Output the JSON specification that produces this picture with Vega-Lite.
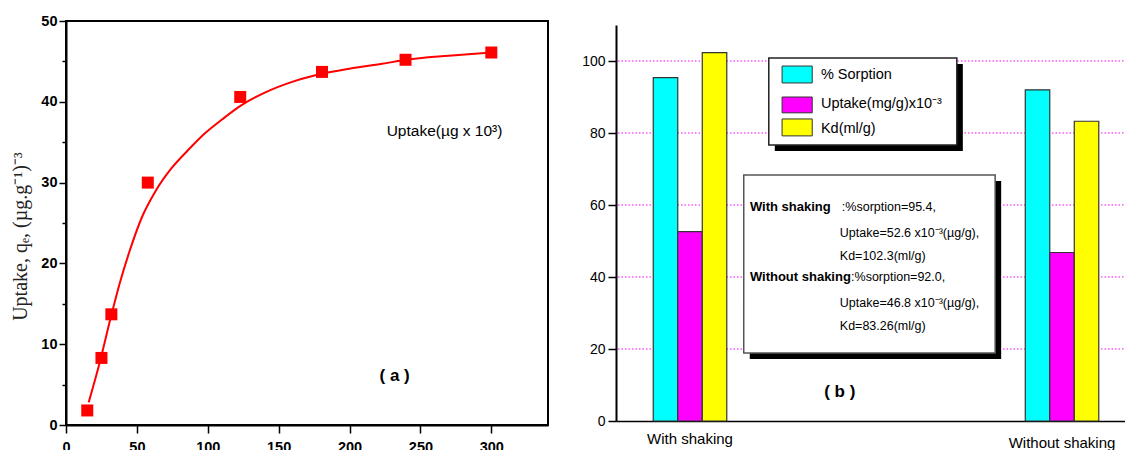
{
  "$schema": "https://vega.github.io/schema/vega-lite/v6.json",
  "background": "white",
  "padding": {"left": 9, "top": 12, "right": 0, "bottom": 0},
  "bounds": "flush",
  "spacing": 68,
  "center": true,
  "config": {
    "font": "Liberation Sans",
    "view": {"stroke": null},
    "axis": {"domainColor": "black", "tickColor": "black", "labelColor": "black", "grid": false, "labelFlush": false, "labelBound": false, "labelOverlap": false}
  },
  "datasets": {
    "fit": [
      {"time": 16, "uptake": 2.8}, {"time": 23, "uptake": 7.2}, {"time": 32, "uptake": 13.6},
      {"time": 38, "uptake": 17.6}, {"time": 45, "uptake": 21.6}, {"time": 54, "uptake": 25.9},
      {"time": 63, "uptake": 28.9}, {"time": 75, "uptake": 31.9}, {"time": 86, "uptake": 34.0},
      {"time": 98, "uptake": 36.1}, {"time": 110, "uptake": 37.8}, {"time": 123, "uptake": 39.5},
      {"time": 141, "uptake": 41.2}, {"time": 160, "uptake": 42.5}, {"time": 181, "uptake": 43.5},
      {"time": 200, "uptake": 44.1}, {"time": 223, "uptake": 44.7}, {"time": 240, "uptake": 45.2},
      {"time": 270, "uptake": 45.7}, {"time": 300, "uptake": 46.1}
    ],
    "measured": [
      {"time": 15, "uptake": 1.8}, {"time": 25, "uptake": 8.3}, {"time": 32, "uptake": 13.7},
      {"time": 57.7, "uptake": 30.0}, {"time": 122.9, "uptake": 40.6}, {"time": 180.6, "uptake": 43.7},
      {"time": 239.5, "uptake": 45.2}, {"time": 300, "uptake": 46.1}
    ],
    "sorption": [
      {"condition": "With shaking", "measure": "% Sorption", "value": 95.4},
      {"condition": "With shaking", "measure": "Uptake(mg/g)x10⁻³", "value": 52.6},
      {"condition": "With shaking", "measure": "Kd(ml/g)", "value": 102.3},
      {"condition": "Without shaking", "measure": "% Sorption", "value": 92.0},
      {"condition": "Without shaking", "measure": "Uptake(mg/g)x10⁻³", "value": 46.8},
      {"condition": "Without shaking", "measure": "Kd(ml/g)", "value": 83.26}
    ],
    "gridlines": [{"level": 20}, {"level": 40}, {"level": 60}, {"level": 80}, {"level": 100}],
    "one": [{}]
  },
  "hconcat": [
    {
      "width": 482,
      "height": 404,
      "view": {"stroke": "black", "strokeWidth": 2},
      "layer": [
        {
          "data": {"name": "fit"},
          "mark": {"type": "line", "color": "#ff0000", "strokeWidth": 2, "interpolate": "monotone"},
          "encoding": {
            "x": {
              "field": "time", "type": "quantitative",
              "scale": {"domain": [0, 340], "nice": false},
              "axis": {
                "title": null,
                "values": [0, 25, 50, 75, 100, 125, 150, 175, 200, 225, 250, 275, 300, 325],
                "labelExpr": "datum.value % 50 === 0 ? datum.label : ''",
                "labelFontWeight": "bold", "labelFontSize": 14.5, "labelPadding": 7,
                "domainWidth": 2, "tickWidth": 1.5,
                "tickSize": {"condition": {"test": "datum.value % 50 !== 0", "value": 4}, "value": 8}
              }
            },
            "y": {
              "field": "uptake", "type": "quantitative",
              "scale": {"domain": [0, 50], "nice": false},
              "axis": {
                "title": "Uptake, qₑ, (µg.g⁻¹)⁻³",
                "titleFont": "Liberation Serif", "titleFontSize": 20, "titleFontWeight": "normal",
                "titleColor": "#222", "titlePadding": 10, "titleY": 215,
                "values": [0, 5, 10, 15, 20, 25, 30, 35, 40, 45, 50],
                "labelExpr": "datum.value % 10 === 0 ? datum.label : ''",
                "labelFontWeight": "bold", "labelFontSize": 14.5, "labelPadding": 2,
                "domainWidth": 2, "tickWidth": 1.5,
                "tickSize": {"condition": {"test": "datum.value % 10 !== 0", "value": 4}, "value": 7}
              }
            }
          }
        },
        {
          "data": {"name": "measured"},
          "mark": {"type": "point", "shape": "square", "filled": true, "color": "#ff0000", "opacity": 1, "size": 144},
          "encoding": {
            "x": {"field": "time", "type": "quantitative"},
            "y": {"field": "uptake", "type": "quantitative"}
          }
        },
        {
          "data": {"name": "one"},
          "mark": {"type": "text", "text": "Uptake(µg x 10³)", "align": "left", "baseline": "middle", "font": "Liberation Sans", "fontSize": 15.5, "color": "black"},
          "encoding": {"x": {"datum": 226.2, "type": "quantitative"}, "y": {"datum": 36.4, "type": "quantitative"}}
        },
        {
          "data": {"name": "one"},
          "mark": {"type": "text", "text": "( a )", "align": "center", "baseline": "middle", "fontSize": 17, "fontWeight": "bold", "color": "black"},
          "encoding": {"x": {"datum": 231.8, "type": "quantitative"}, "y": {"datum": 6.1, "type": "quantitative"}}
        }
      ]
    },
    {
      "width": 511,
      "height": 396,
      "layer": [
        {
          "data": {"name": "gridlines"},
          "mark": {"type": "rule", "color": "#ff00ff", "strokeWidth": 1, "strokeDash": [1.5, 2]},
          "encoding": {
            "y": {"field": "level", "type": "quantitative"}
          }
        },
        {
          "data": {"name": "sorption"},
          "mark": {"type": "bar", "stroke": "#333", "strokeWidth": 1.2},
          "encoding": {
            "x": {
              "field": "condition", "type": "nominal", "sort": ["With shaking", "Without shaking"],
              "scale": {"paddingInner": 0.8024, "paddingOuter": 0.088, "align": 0.569},
              "axis": {
                "title": null, "labelAngle": 0, "ticks": false, "domainWidth": 1.5,
                "labelFontSize": 15,
                "labelPadding": {"condition": {"test": "datum.value === 'Without shaking'", "value": 14}, "value": 10}
              }
            },
            "xOffset": {
              "field": "measure", "type": "nominal",
              "sort": ["% Sorption", "Uptake(mg/g)x10⁻³", "Kd(ml/g)"],
              "scale": {"paddingInner": 0, "paddingOuter": 0}
            },
            "y": {
              "field": "value", "type": "quantitative",
              "scale": {"domain": [0, 110], "nice": false},
              "axis": {
                "title": null,
                "values": [0, 10, 20, 30, 40, 50, 60, 70, 80, 90, 100, 110],
                "labelExpr": "datum.value % 20 === 0 ? datum.label : ''",
                "labelFontSize": 14, "labelPadding": 3,
                "domainWidth": 2, "tickWidth": 1.5,
                "tickSize": {"condition": {"test": "datum.value % 20 !== 0", "value": 4}, "value": 8},
                "grid": false
              }
            },
            "color": {
              "field": "measure", "type": "nominal",
              "scale": {"domain": ["% Sorption", "Uptake(mg/g)x10⁻³", "Kd(ml/g)"], "range": ["#00ffff", "#ff00ff", "#ffff00"]},
              "legend": null
            }
          }
        },
        {
          "data": {"name": "one"},
          "layer": [
            {
              "mark": {"type": "rect", "color": "black", "xOffset": 6, "x2Offset": 6, "yOffset": 6, "y2Offset": 6},
              "encoding": {
                "x": {"datum": 29.9, "type": "quantitative", "scale": {"domain": [0, 100], "nice": false}, "axis": null},
                "x2": {"datum": 66.7}, "y": {"datum": 100.8, "type": "quantitative"}, "y2": {"datum": 76.7}
              }
            },
            {
              "mark": {"type": "rect", "fill": "white", "stroke": "#222", "strokeWidth": 1.5},
              "encoding": {
                "x": {"datum": 29.9, "type": "quantitative", "scale": {"domain": [0, 100], "nice": false}, "axis": null},
                "x2": {"datum": 66.7}, "y": {"datum": 100.8, "type": "quantitative"}, "y2": {"datum": 76.7}
              }
            },
            {
              "mark": {"type": "rect", "stroke": "#333", "strokeWidth": 1, "opacity": 1},
              "encoding": {
                "x": {"datum": 32.5, "type": "quantitative", "scale": {"domain": [0, 100], "nice": false}, "axis": null},
                "x2": {"datum": 38.4}, "y": {"datum": 98.6, "type": "quantitative"}, "y2": {"datum": 93.9},
                "color": {"datum": "% Sorption", "type": "nominal", "legend": null}
              }
            },
            {
              "mark": {"type": "rect", "stroke": "#333", "strokeWidth": 1, "opacity": 1},
              "encoding": {
                "x": {"datum": 32.5, "type": "quantitative", "scale": {"domain": [0, 100], "nice": false}, "axis": null},
                "x2": {"datum": 38.4}, "y": {"datum": 90.0, "type": "quantitative"}, "y2": {"datum": 85.6},
                "color": {"datum": "Uptake(mg/g)x10⁻³", "type": "nominal", "legend": null}
              }
            },
            {
              "mark": {"type": "rect", "stroke": "#333", "strokeWidth": 1, "opacity": 1},
              "encoding": {
                "x": {"datum": 32.5, "type": "quantitative", "scale": {"domain": [0, 100], "nice": false}, "axis": null},
                "x2": {"datum": 38.4}, "y": {"datum": 83.9, "type": "quantitative"}, "y2": {"datum": 79.2},
                "color": {"datum": "Kd(ml/g)", "type": "nominal", "legend": null}
              }
            },
            {
              "mark": {"type": "text", "text": "% Sorption", "align": "left", "baseline": "middle", "fontSize": 14.5, "color": "black"},
              "encoding": {"x": {"datum": 40.1, "type": "quantitative", "scale": {"domain": [0, 100], "nice": false}, "axis": null}, "y": {"datum": 96.0, "type": "quantitative"}}
            },
            {
              "mark": {"type": "text", "text": "Uptake(mg/g)x10⁻³", "align": "left", "baseline": "middle", "fontSize": 14.5, "color": "black"},
              "encoding": {"x": {"datum": 40.1, "type": "quantitative", "scale": {"domain": [0, 100], "nice": false}, "axis": null}, "y": {"datum": 88.0, "type": "quantitative"}}
            },
            {
              "mark": {"type": "text", "text": "Kd(ml/g)", "align": "left", "baseline": "middle", "fontSize": 14.5, "color": "black"},
              "encoding": {"x": {"datum": 40.1, "type": "quantitative", "scale": {"domain": [0, 100], "nice": false}, "axis": null}, "y": {"datum": 81.0, "type": "quantitative"}}
            },
            {
              "mark": {"type": "rect", "color": "black", "xOffset": 6, "x2Offset": 6, "yOffset": 6, "y2Offset": 6},
              "encoding": {
                "x": {"datum": 25.0, "type": "quantitative", "scale": {"domain": [0, 100], "nice": false}, "axis": null},
                "x2": {"datum": 74.2}, "y": {"datum": 68.3, "type": "quantitative"}, "y2": {"datum": 18.9}
              }
            },
            {
              "mark": {"type": "rect", "fill": "white", "stroke": "#555", "strokeWidth": 1.5},
              "encoding": {
                "x": {"datum": 25.0, "type": "quantitative", "scale": {"domain": [0, 100], "nice": false}, "axis": null},
                "x2": {"datum": 74.2}, "y": {"datum": 68.3, "type": "quantitative"}, "y2": {"datum": 18.9}
              }
            },
            {
              "mark": {"type": "text", "text": "With shaking", "align": "left", "baseline": "middle", "fontSize": 13, "fontWeight": "bold", "color": "black"},
              "encoding": {"x": {"datum": 26.2, "type": "quantitative", "scale": {"domain": [0, 100], "nice": false}, "axis": null}, "y": {"datum": 59.4, "type": "quantitative"}}
            },
            {
              "mark": {"type": "text", "text": ":%sorption=95.4,", "align": "left", "baseline": "middle", "fontSize": 12.5, "color": "black"},
              "encoding": {"x": {"datum": 44.2, "type": "quantitative", "scale": {"domain": [0, 100], "nice": false}, "axis": null}, "y": {"datum": 59.4, "type": "quantitative"}}
            },
            {
              "mark": {"type": "text", "text": "Uptake=52.6 x10⁻³(µg/g),", "align": "left", "baseline": "middle", "fontSize": 12.5, "color": "black"},
              "encoding": {"x": {"datum": 43.8, "type": "quantitative", "scale": {"domain": [0, 100], "nice": false}, "axis": null}, "y": {"datum": 52.3, "type": "quantitative"}}
            },
            {
              "mark": {"type": "text", "text": "Kd=102.3(ml/g)", "align": "left", "baseline": "middle", "fontSize": 12.5, "color": "black"},
              "encoding": {"x": {"datum": 43.8, "type": "quantitative", "scale": {"domain": [0, 100], "nice": false}, "axis": null}, "y": {"datum": 45.8, "type": "quantitative"}}
            },
            {
              "mark": {"type": "text", "text": "Without shaking", "align": "left", "baseline": "middle", "fontSize": 13, "fontWeight": "bold", "color": "black"},
              "encoding": {"x": {"datum": 26.2, "type": "quantitative", "scale": {"domain": [0, 100], "nice": false}, "axis": null}, "y": {"datum": 40.0, "type": "quantitative"}}
            },
            {
              "mark": {"type": "text", "text": ":%sorption=92.0,", "align": "left", "baseline": "middle", "fontSize": 12.5, "color": "black"},
              "encoding": {"x": {"datum": 46.0, "type": "quantitative", "scale": {"domain": [0, 100], "nice": false}, "axis": null}, "y": {"datum": 40.0, "type": "quantitative"}}
            },
            {
              "mark": {"type": "text", "text": "Uptake=46.8 x10⁻³(µg/g),", "align": "left", "baseline": "middle", "fontSize": 12.5, "color": "black"},
              "encoding": {"x": {"datum": 43.8, "type": "quantitative", "scale": {"domain": [0, 100], "nice": false}, "axis": null}, "y": {"datum": 32.7, "type": "quantitative"}}
            },
            {
              "mark": {"type": "text", "text": "Kd=83.26(ml/g)", "align": "left", "baseline": "middle", "fontSize": 12.5, "color": "black"},
              "encoding": {"x": {"datum": 43.8, "type": "quantitative", "scale": {"domain": [0, 100], "nice": false}, "axis": null}, "y": {"datum": 26.4, "type": "quantitative"}}
            },
            {
              "mark": {"type": "text", "text": "( b )", "align": "center", "baseline": "middle", "fontSize": 17, "fontWeight": "bold", "color": "black"},
              "encoding": {"x": {"datum": 43.8, "type": "quantitative", "scale": {"domain": [0, 100], "nice": false}, "axis": null}, "y": {"datum": 8.0, "type": "quantitative"}}
            }
          ]
        }
      ],
      "resolve": {"scale": {"x": "independent"}}
    }
  ]
}
